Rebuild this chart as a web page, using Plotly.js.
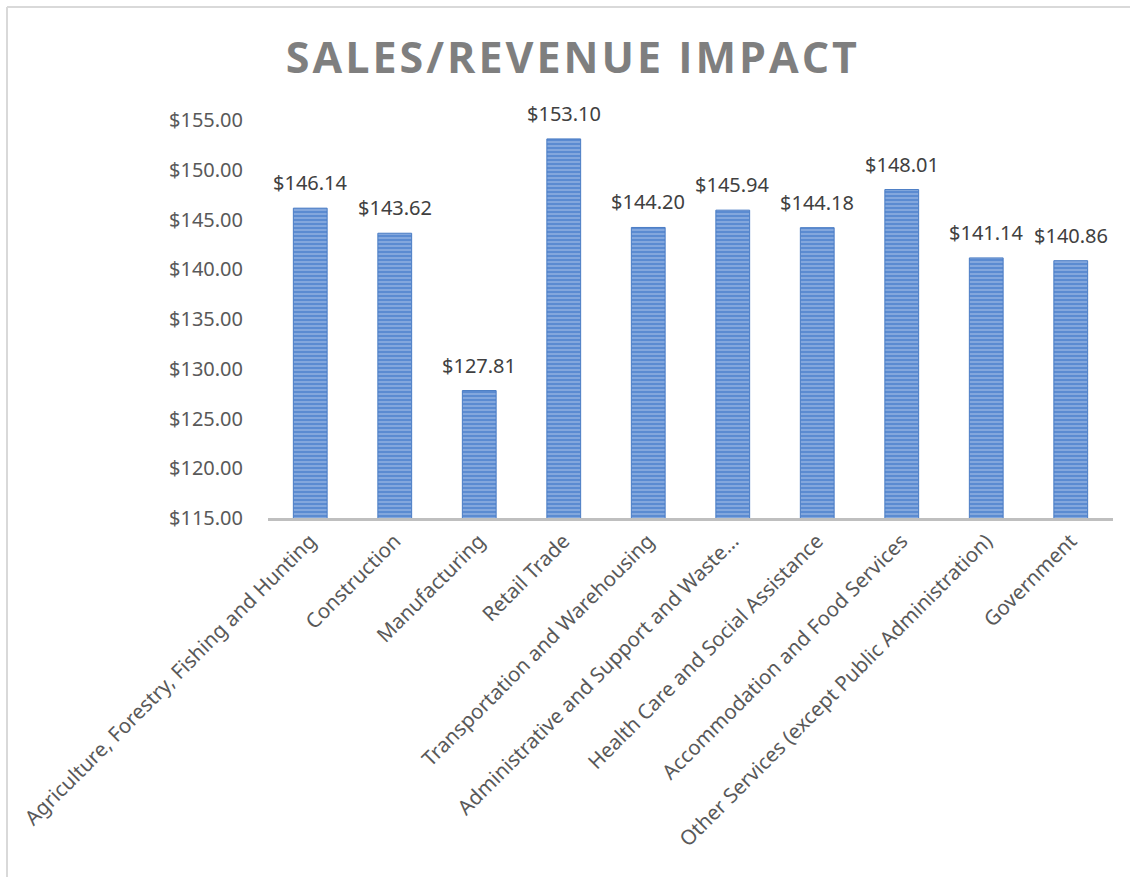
<!DOCTYPE html>
<html>
<head>
<meta charset="utf-8">
<script src="https://cdn.plot.ly/plotly-3.0.1.min.js"></script>
<style>
html,body{margin:0;padding:0;background:#fff;}
#chart{width:1130px;height:877px;}
.gtitle{letter-spacing:3px;}
</style>
</head>
<body>
<div id="chart"></div>
<script>
const categories = [
  "Agriculture, Forestry, Fishing and Hunting",
  "Construction",
  "Manufacturing",
  "Retail Trade",
  "Transportation and Warehousing",
  "Administrative and Support and Waste…",
  "Health Care and Social Assistance",
  "Accommodation and Food Services",
  "Other Services (except Public Administration)",
  "Government"
];
const values = [146.14, 143.62, 127.81, 153.10, 144.20, 145.94, 144.18, 148.01, 141.14, 140.86];
const tickVals = [115, 120, 125, 130, 135, 140, 145, 150, 155];
const tickText = tickVals.map(v => "$" + v.toFixed(2));
const labels = values.map(v => "$" + v.toFixed(2));

const trace = {
  type: "bar",
  x: categories,
  y: values,
  cliponaxis: false,
  marker: {
    color: "#5b8bd1",
    line: {color: "#4a7cc4", width: 1},
    pattern: {shape: "-", fgcolor: "#cddcf2", size: 4, solidity: 0.35, fillmode: "overlay"}
  },
  hoverinfo: "none"
};

const dataLabels = categories.map((c, i) => ({
  x: c, y: values[i], xref: "x", yref: "y",
  text: labels[i], showarrow: false,
  yanchor: "bottom", yshift: 10,
  font: {family: "Noto Sans, Open Sans, sans-serif", size: 20, color: "#404040"}
}));

const L = 268, T = 120, PW = 845, PH = 398;
const layout = {
  width: 1130,
  height: 877,
  paper_bgcolor: "#fff",
  plot_bgcolor: "#fff",
  margin: {l: L, r: 1130 - L - PW, t: T, b: 877 - T - PH},
  bargap: 0.6,
  showlegend: false,
  title: {
    text: "<b>SALES/REVENUE IMPACT</b>",
    x: 0.507, xanchor: "center",
    y: 0.934, yanchor: "middle",
    font: {family: "Open Sans, sans-serif", size: 43, color: "#7f7f7f"}
  },
  xaxis: {
    tickangle: -45,
    tickfont: {family: "Noto Sans, Open Sans, sans-serif", size: 20.5, color: "#595959"},
    showline: true, linecolor: "#bfbfbf", linewidth: 3,
    ticks: "", showgrid: false, automargin: false
  },
  yaxis: {
    range: [115, 155],
    tickvals: tickVals,
    ticktext: tickText,
    tickfont: {family: "Noto Sans, Open Sans, sans-serif", size: 20, color: "#595959"},
    showgrid: false, zeroline: false, showline: false,
    ticks: "outside", ticklen: 20, tickcolor: "rgba(0,0,0,0)",
    automargin: false
  },
  annotations: dataLabels,
  shapes: [
    {type: "line", xref: "paper", yref: "paper", x0: (7 - L) / PW, x1: (7 - L) / PW, y0: (T + PH - 877) / PH, y1: (T + PH - 7) / PH,
     line: {color: "#d9d9d9", width: 2}},
    {type: "line", xref: "paper", yref: "paper", x0: (7 - L) / PW, x1: (1130 - L) / PW, y0: (T + PH - 7) / PH, y1: (T + PH - 7) / PH,
     line: {color: "#d9d9d9", width: 2}}
  ]
};

Plotly.newPlot("chart", [trace], layout, {displayModeBar: false, staticPlot: true});
</script>
</body>
</html>
